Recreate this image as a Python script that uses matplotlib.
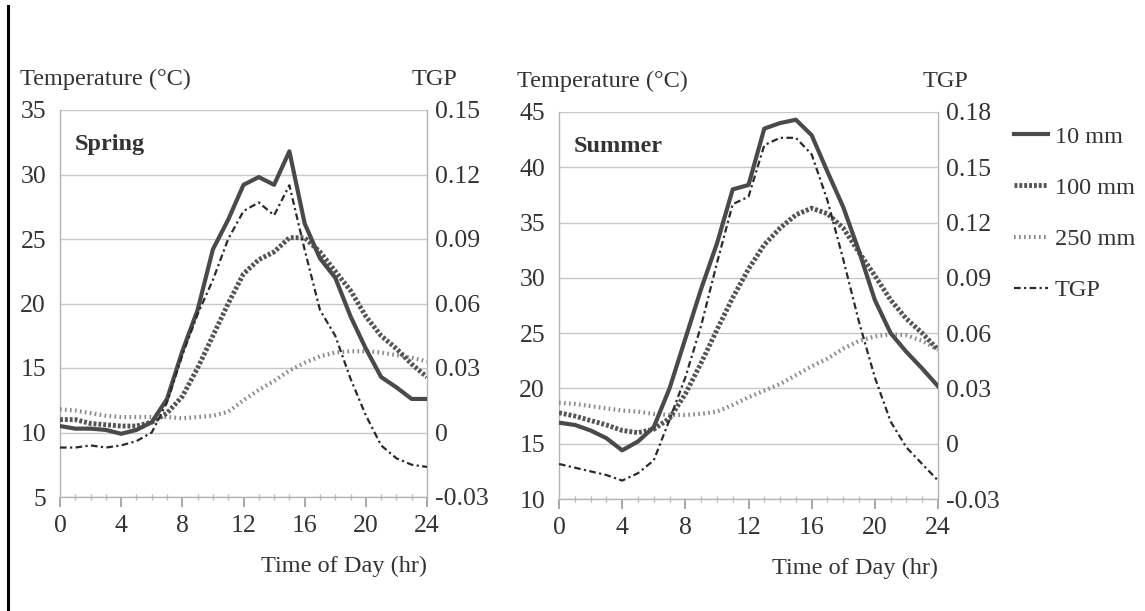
import numpy as np
import matplotlib.pyplot as plt
from matplotlib.lines import Line2D

plt.rcParams['font.family'] = ['Liberation Serif', 'DejaVu Serif']

# hora do dia
horas = list(range(25))

# Primavera (°C) e TGP
spring_10 = [10.5, 10.3, 10.3, 10.2, 9.9, 10.2, 10.8, 12.6, 16.3, 19.5, 24.2, 26.5, 29.2,
             29.8, 29.2, 31.8, 26.2, 23.5, 22.0, 19.0, 16.5, 14.3, 13.5, 12.6, 12.6]
spring_100 = [11.0, 11.0, 10.7, 10.6, 10.5, 10.5, 10.8, 11.5, 12.8, 15.0, 17.5, 20.0, 22.3,
              23.4, 24.0, 25.1, 25.1, 24.0, 22.5, 21.0, 19.0, 17.5, 16.5, 15.3, 14.3]
spring_250 = [11.8, 11.7, 11.5, 11.3, 11.2, 11.2, 11.2, 11.2, 11.1, 11.2, 11.3, 11.6, 12.5,
              13.3, 14.0, 14.8, 15.4, 15.9, 16.2, 16.3, 16.3, 16.2, 16.0, 15.8, 15.5]
spring_tgp = [-0.007, -0.007, -0.006, -0.007, -0.006, -0.004, 0.000, 0.014, 0.036, 0.055,
              0.071, 0.090, 0.103, 0.107, 0.101, 0.115, 0.085, 0.057, 0.045, 0.025, 0.008,
              -0.006, -0.012, -0.015, -0.016]

# Verão (°C) e TGP
summer_10 = [16.9, 16.7, 16.2, 15.5, 14.4, 15.2, 16.5, 20.0, 24.5, 29.0, 33.1, 38.0, 38.4,
             43.5, 44.0, 44.3, 42.9, 39.6, 36.4, 32.4, 28.0, 25.0, 23.3, 21.8, 20.2]
summer_100 = [17.8, 17.5, 17.1, 16.7, 16.2, 16.0, 16.3, 17.3, 19.5, 22.3, 25.3, 28.2, 30.8,
              33.0, 34.5, 35.7, 36.3, 35.8, 34.5, 32.3, 30.2, 28.0, 26.3, 25.0, 23.5]
summer_250 = [18.7, 18.6, 18.4, 18.2, 18.0, 17.9, 17.7, 17.6, 17.6, 17.7, 17.9, 18.5, 19.2,
              19.8, 20.4, 21.2, 22.0, 22.7, 23.6, 24.3, 24.7, 24.9, 24.8, 24.3, 23.5]
summer_tgp = [-0.011, -0.013, -0.015, -0.017, -0.020, -0.016, -0.009, 0.013, 0.036, 0.064,
              0.098, 0.130, 0.134, 0.162, 0.166, 0.166, 0.157, 0.132, 0.100, 0.066, 0.036,
              0.012, -0.002, -0.011, -0.020]

legenda = ["10 mm", "100 mm", "250 mm", "TGP"]

# estilos das linhas
est_10 = dict(color="#4a4a4a", lw=3.0, ls="-")
est_100 = dict(color="#555555", lw=3.5, ls=(0, (0.6, 0.4)))
est_250 = dict(color="#8a8a8a", lw=3.0, ls=(0, (0.4, 0.8)))
est_tgp = dict(color="#2a2a2a", lw=1.6, ls=(0, (3, 1.5, 1, 1.5)))

fig = plt.figure(figsize=(11.45, 6.11), dpi=100)
fig.patch.set_facecolor("white")

# linha vertical na borda esquerda
fig.add_artist(Line2D([8 / 1145, 8 / 1145], [0, 1 - 6 / 611], color="black", lw=2.2))

fs = 17.5
fst = 18.5
cinza = "#b5b5b5"


def painel(rect, t10, t100, t250, tgp, ylim, yticks, y2lim, y2ticks, y2labels, nome):
    ax = fig.add_axes(rect)
    ax.plot(horas, t10, **est_10, zorder=5)
    ax.plot(horas, t100, **est_100, zorder=4)
    ax.plot(horas, t250, **est_250, zorder=3)
    ax.set_xlim(0, 24)
    ax.set_ylim(*ylim)
    ax.set_xticks(range(0, 25, 4))
    ax.set_xticks(range(0, 25), minor=True)
    ax.set_yticks(yticks)
    ax.grid(axis="y", color="#c8c8c8", lw=1.0)
    ax.set_axisbelow(True)
    for s in ax.spines.values():
        s.set_color(cinza)
        s.set_linewidth(1.0)
    ax.spines["top"].set_visible(False)
    ax.tick_params(axis="x", which="major", direction="out", length=7, width=1.2,
                   color="#999999", labelsize=fst, pad=6, colors="#333333")
    ax.tick_params(axis="x", which="minor", direction="inout", length=5, width=1.0,
                   color="#bbbbbb")
    ax.tick_params(axis="y", length=0, labelsize=fst, pad=10, colors="#333333")
    ax.text(0.04, 0.91, nome, transform=ax.transAxes, fontsize=17.5, fontweight="bold",
            color="#333333", va="center", ha="left")
    ax.text(-0.11, 1.08, "Temperature (°C)", transform=ax.transAxes, fontsize=fs,
            color="#333333", ha="left", va="center")
    ax.text(1.0, -0.18, "Time of Day (hr)", transform=ax.transAxes, fontsize=fs,
            color="#333333", ha="right", va="center")

    ax2 = ax.twinx()
    ax2.plot(horas, tgp, **est_tgp, zorder=4)
    ax2.set_ylim(*y2lim)
    ax2.set_yticks(y2ticks)
    ax2.set_yticklabels(y2labels)
    ax2.tick_params(axis="y", length=0, labelsize=fst, pad=6, colors="#333333")
    for s in ax2.spines.values():
        s.set_visible(False)
    ax.text(1.02, 1.08, "TGP", transform=ax.transAxes, fontsize=fs,
            color="#333333", ha="center", va="center")
    return ax, ax2


painel([60 / 1145, 1 - 497 / 611, 367 / 1145, 387 / 611],
       spring_10, spring_100, spring_250, spring_tgp,
       (5, 35), range(5, 36, 5),
       (-0.03, 0.15), [-0.03, 0, 0.03, 0.06, 0.09, 0.12, 0.15],
       ["-0.03", "0", "0.03", "0.06", "0.09", "0.12", "0.15"], "Spring")

painel([559 / 1145, 1 - 499 / 611, 379 / 1145, 387 / 611],
       summer_10, summer_100, summer_250, summer_tgp,
       (10, 45), range(10, 46, 5),
       (-0.03, 0.18), [-0.03, 0, 0.03, 0.06, 0.09, 0.12, 0.15, 0.18],
       ["-0.03", "0", "0.03", "0.06", "0.09", "0.12", "0.15", "0.18"], "Summer")

handles = [Line2D([], [], **est_10), Line2D([], [], **est_100),
           Line2D([], [], **est_250), Line2D([], [], **est_tgp)]
leg = fig.legend(handles, legenda, loc="upper left", bbox_to_anchor=(1004 / 1145, 1 - 116 / 611),
                 frameon=False, fontsize=fs, handlelength=1.4, handletextpad=0.3,
                 labelspacing=1.2, borderaxespad=0)
for t in leg.get_texts():
    t.set_color("#333333")

fig.savefig("out.png", dpi=100)
